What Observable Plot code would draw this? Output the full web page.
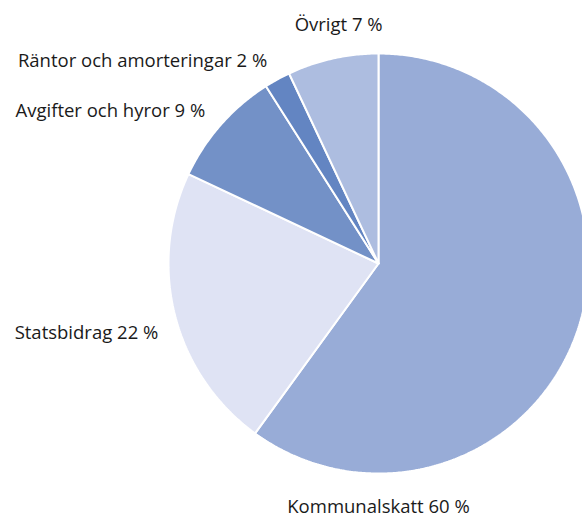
<!DOCTYPE html>
<html>
<head>
<meta charset="utf-8">
<script src="https://cdn.jsdelivr.net/npm/d3@7"></script>
<script src="https://cdn.jsdelivr.net/npm/@observablehq/plot@0.6"></script>
<style>
  html, body { margin: 0; padding: 0; background: #fff; overflow: hidden; }
  svg { overflow: hidden; }
</style>
</head>
<body>
<div id="chart"></div>
<script>
// Data
const names = ["Kommunalskatt", "Statsbidrag", "Avgifter och hyror", "Räntor och amorteringar", "Övrigt"];
const values = [60, 22, 9, 2, 7];
const colors = ["#98acd7", "#dfe3f4", "#7391c7", "#6385c2", "#adbde0"];

// Layout
const W = 582, H = 519, cx = 378, cy = 263, R = 210;
const labelAngleOverride = {"Kommunalskatt": 180, "Statsbidrag": 252.4, "Övrigt": 350.5};
const labelRadiusOverride = {"Kommunalskatt": 1.16, "Övrigt": 1.15};

const slices = names.map((n, i) => ({name: n, value: values[i]}));
const arcs = d3.pie().sort(null).value(d => d.value)(slices);

// Build polygon outline for each slice (geometry from d3.pie angles)
const pts = [];
arcs.forEach(a => {
  const n = a.data.name;
  pts.push({name: n, x: 0, y: 0});
  const steps = Math.max(2, Math.ceil((a.endAngle - a.startAngle) / (Math.PI / 360)));
  for (let k = 0; k <= steps; k++) {
    const t = a.startAngle + (a.endAngle - a.startAngle) * k / steps;
    pts.push({name: n, x: Math.sin(t), y: Math.cos(t)});
  }
  pts.push({name: n, x: 0, y: 0});
});

const labels = arcs.map(a => {
  const n = a.data.name;
  const ang = n in labelAngleOverride ? labelAngleOverride[n] * Math.PI / 180 : (a.startAngle + a.endAngle) / 2;
  const r = labelRadiusOverride[n] ?? 1.1;
  const s = Math.sin(ang);
  return {
    name: n,
    text: `${n} ${a.data.value} %`,
    x: r * s,
    y: r * Math.cos(ang),
    anchor: s < -0.3 ? "end" : s > 0.3 ? "start" : "middle"
  };
});

const textOpts = {x: "x", y: "y", text: "text", fontSize: 18.5, fill: "#1a1a1a"};

const chart = Plot.plot({
  width: W,
  height: H,
  margin: 0,
  style: {fontFamily: "'Open Sans', Lato, sans-serif", background: "#fff"},
  x: {domain: [-1, 1], range: [cx - R, cx + R], axis: null},
  y: {domain: [-1, 1], range: [cy + R, cy - R], axis: null},
  color: {domain: names, range: colors},
  marks: [
    Plot.line(pts, {x: "x", y: "y", z: "name", fill: "name", stroke: "white", strokeWidth: 2, strokeLinejoin: "miter", curve: "linear"}),
    Plot.text(labels.filter(d => d.anchor === "end"), {...textOpts, textAnchor: "end"}),
    Plot.text(labels.filter(d => d.anchor === "middle"), {...textOpts, textAnchor: "middle"}),
    Plot.text(labels.filter(d => d.anchor === "start"), {...textOpts, textAnchor: "start"})
  ]
});
document.getElementById("chart").appendChild(chart);
</script>
</body>
</html>
